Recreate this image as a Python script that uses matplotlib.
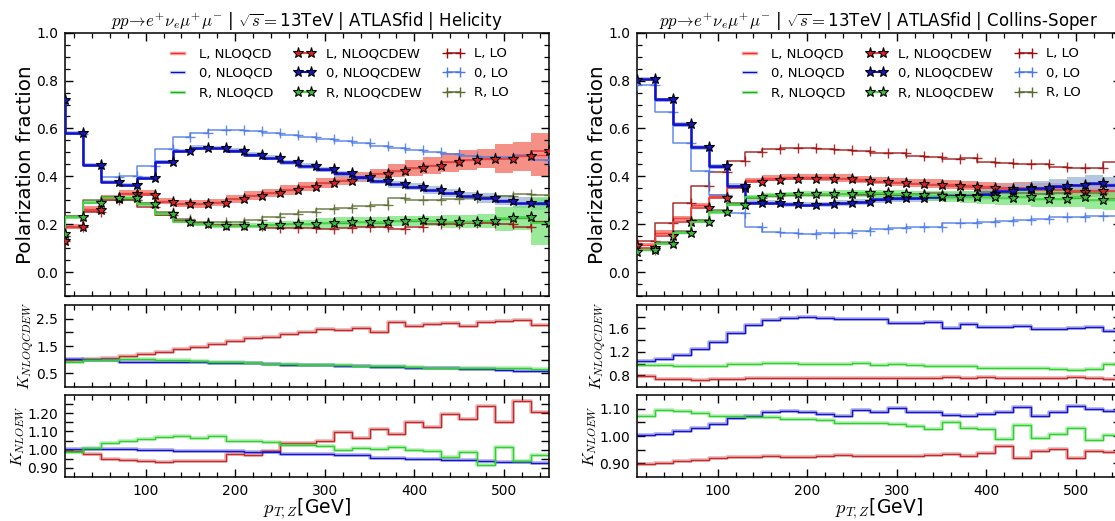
import numpy as np
import matplotlib
matplotlib.use("Agg")
import matplotlib.pyplot as plt
from matplotlib.lines import Line2D
from matplotlib.ticker import MultipleLocator, FixedLocator, FormatStrFormatter

plt.rcParams['mathtext.fontset'] = 'cm'
plt.rcParams['font.family'] = 'DejaVu Sans'

# transverse momentum of the Z boson, upper bin edges [GeV]
pt = [10, 30, 50, 70, 90, 110, 130, 150, 170, 190, 210, 230, 250, 270,
      290, 310, 330, 350, 370, 390, 410, 430, 450, 470, 490, 510, 530, 550]

# ---------------- Helicity frame ----------------
hel_L_qcd = [0.13, 0.19, 0.262, 0.31, 0.33, 0.33, 0.298, 0.285, 0.284, 0.291, 0.305, 0.32, 0.33, 0.342,
             0.358, 0.372, 0.384, 0.398, 0.412, 0.424, 0.435, 0.446, 0.459, 0.468, 0.473, 0.475, 0.484, 0.49]
hel_L_err = [0.01, 0.01, 0.012, 0.012, 0.012, 0.012, 0.012, 0.014, 0.015, 0.015, 0.016, 0.017, 0.018, 0.02,
             0.02, 0.02, 0.02, 0.02, 0.02, 0.028, 0.032, 0.035, 0.04, 0.04, 0.04, 0.06, 0.06, 0.09]
hel_0_qcd = [0.72, 0.583, 0.447, 0.378, 0.365, 0.393, 0.462, 0.507, 0.52, 0.518, 0.508, 0.492, 0.477, 0.458,
             0.443, 0.428, 0.41, 0.393, 0.38, 0.366, 0.357, 0.342, 0.33, 0.318, 0.309, 0.3, 0.29, 0.285]
hel_0_err = [0.008, 0.008, 0.008, 0.008, 0.008, 0.008, 0.008, 0.008, 0.009, 0.009, 0.01, 0.01, 0.01, 0.011,
             0.012, 0.012, 0.013, 0.013, 0.014, 0.015, 0.016, 0.017, 0.018, 0.018, 0.02, 0.02, 0.022, 0.025]
hel_R_qcd = [0.16, 0.23, 0.292, 0.31, 0.31, 0.283, 0.242, 0.212, 0.2, 0.195, 0.194, 0.194, 0.197, 0.199,
             0.2, 0.203, 0.207, 0.21, 0.207, 0.212, 0.215, 0.213, 0.211, 0.212, 0.213, 0.222, 0.225, 0.215]
hel_R_err = [0.006, 0.007, 0.008, 0.008, 0.008, 0.008, 0.008, 0.008, 0.009, 0.01, 0.011, 0.012, 0.014, 0.016,
             0.018, 0.022, 0.022, 0.022, 0.022, 0.021, 0.021, 0.021, 0.028, 0.028, 0.028, 0.05, 0.05, 0.1]

hel_L_ew = [0.13, 0.188, 0.26, 0.306, 0.326, 0.322, 0.294, 0.283, 0.283, 0.29, 0.304, 0.319, 0.329, 0.341,
            0.357, 0.371, 0.382, 0.396, 0.41, 0.422, 0.433, 0.444, 0.458, 0.468, 0.474, 0.474, 0.485, 0.507]
hel_0_ew = [0.72, 0.583, 0.447, 0.377, 0.364, 0.393, 0.461, 0.505, 0.519, 0.517, 0.507, 0.491, 0.477, 0.46,
            0.444, 0.429, 0.412, 0.396, 0.382, 0.367, 0.357, 0.343, 0.329, 0.318, 0.308, 0.297, 0.288, 0.288]
hel_R_ew = [0.16, 0.228, 0.29, 0.308, 0.308, 0.285, 0.243, 0.211, 0.2, 0.194, 0.193, 0.193, 0.198, 0.2,
            0.2, 0.204, 0.208, 0.211, 0.208, 0.214, 0.217, 0.214, 0.211, 0.211, 0.214, 0.225, 0.229, 0.207]

hel_L_lo = [0.13, 0.19, 0.25, 0.3, 0.3, 0.27, 0.238, 0.214, 0.206, 0.197, 0.197, 0.192, 0.186, 0.185,
            0.185, 0.18, 0.182, 0.189, 0.19, 0.178, 0.189, 0.199, 0.201, 0.207, 0.203, 0.2, 0.19, 0.21]
hel_0_lo = [0.72, 0.576, 0.447, 0.398, 0.4, 0.443, 0.513, 0.565, 0.583, 0.592, 0.592, 0.59, 0.582, 0.572,
            0.565, 0.556, 0.549, 0.5375, 0.528, 0.517, 0.51, 0.5, 0.493, 0.485, 0.482, 0.482, 0.489, 0.468]
hel_R_lo = [0.15, 0.236, 0.3, 0.315, 0.301, 0.29, 0.249, 0.221, 0.211, 0.211, 0.211, 0.218, 0.232, 0.243,
            0.25, 0.2625, 0.269, 0.274, 0.281, 0.308, 0.301, 0.301, 0.306, 0.308, 0.315, 0.318, 0.326, 0.322]

hel_kqcdew_L = [1.0, 1.0, 1.03, 1.06, 1.12, 1.2, 1.28, 1.38, 1.47, 1.56, 1.69, 1.8, 1.82, 1.94,
                2.03, 2.14, 2.08, 2.15, 2.03, 2.38, 2.23, 2.3, 2.33, 2.22, 2.38, 2.4, 2.45, 2.27]
hel_kqcdew_0 = [1.02, 1.02, 1.0, 0.98, 0.92, 0.9, 0.9, 0.9, 0.9, 0.88, 0.87, 0.86, 0.83, 0.82,
                0.81, 0.8, 0.78, 0.76, 0.75, 0.73, 0.71, 0.7, 0.68, 0.66, 0.65, 0.63, 0.6, 0.6]
hel_kqcdew_R = [0.93, 0.93, 0.97, 0.98, 1.02, 1.02, 1.0, 0.98, 0.95, 0.92, 0.9, 0.87, 0.84, 0.83,
                0.82, 0.8, 0.79, 0.77, 0.77, 0.76, 0.72, 0.71, 0.71, 0.7, 0.7, 0.7, 0.69, 0.66]

hel_knloew_L = [0.99, 0.99, 0.976, 0.95, 0.943, 0.936, 0.93, 0.939, 0.94, 0.936, 0.978, 0.972, 0.99, 1.037,
                1.037, 1.046, 1.095, 1.064, 1.114, 1.086, 1.15, 1.123, 1.196, 1.17, 1.242, 1.15, 1.266, 1.205]
hel_knloew_0 = [1.005, 1.005, 1.005, 1.003, 1.003, 1.0, 0.998, 0.995, 0.993, 0.99, 0.99, 0.988, 0.987, 0.978,
                0.976, 0.974, 0.97, 0.968, 0.955, 0.955, 0.95, 0.95, 0.944, 0.944, 0.94, 0.932, 0.932, 0.925]
hel_knloew_R = [0.985, 0.985, 1.01, 1.037, 1.05, 1.06, 1.07, 1.077, 1.064, 1.073, 1.046, 1.046, 1.04, 1.024,
                1.028, 1.022, 1.0, 1.01, 1.006, 1.013, 0.996, 0.995, 0.958, 0.987, 0.917, 1.013, 0.94, 0.969]

# ---------------- Collins-Soper frame ----------------
cs_L_qcd = [0.12, 0.115, 0.165, 0.225, 0.28, 0.318, 0.355, 0.385, 0.392, 0.396, 0.397, 0.396, 0.393, 0.388,
            0.382, 0.377, 0.372, 0.369, 0.366, 0.362, 0.358, 0.354, 0.353, 0.348, 0.346, 0.341, 0.342, 0.34]
cs_L_err = [0.008, 0.008, 0.01, 0.01, 0.01, 0.01, 0.01, 0.01, 0.012, 0.012, 0.013, 0.014, 0.015, 0.015,
            0.016, 0.017, 0.018, 0.018, 0.019, 0.02, 0.02, 0.02, 0.022, 0.024, 0.025, 0.026, 0.028, 0.03]
cs_0_qcd = [0.805, 0.805, 0.72, 0.615, 0.522, 0.44, 0.36, 0.292, 0.289, 0.283, 0.281, 0.283, 0.288, 0.294,
            0.303, 0.307, 0.31, 0.314, 0.317, 0.319, 0.324, 0.338, 0.345, 0.35, 0.356, 0.362, 0.368, 0.363]
cs_0_err = [0.008, 0.008, 0.008, 0.01, 0.01, 0.01, 0.01, 0.01, 0.01, 0.01, 0.01, 0.011, 0.012, 0.013,
            0.014, 0.015, 0.016, 0.017, 0.018, 0.02, 0.022, 0.024, 0.027, 0.03, 0.032, 0.034, 0.036, 0.036]
cs_R_qcd = [0.088, 0.093, 0.12, 0.165, 0.213, 0.252, 0.284, 0.312, 0.32, 0.324, 0.326, 0.327, 0.327, 0.327,
            0.327, 0.324, 0.321, 0.318, 0.315, 0.314, 0.312, 0.31, 0.312, 0.306, 0.305, 0.309, 0.3, 0.3]
cs_R_err = [0.006, 0.006, 0.007, 0.008, 0.008, 0.009, 0.01, 0.01, 0.01, 0.011, 0.012, 0.013, 0.014, 0.015,
            0.016, 0.017, 0.019, 0.02, 0.022, 0.024, 0.026, 0.028, 0.03, 0.033, 0.035, 0.036, 0.038, 0.04]

cs_L_ew = [0.11, 0.1, 0.151, 0.211, 0.267, 0.308, 0.35, 0.378, 0.384, 0.39, 0.39, 0.39, 0.387, 0.382,
           0.375, 0.371, 0.367, 0.364, 0.361, 0.357, 0.353, 0.347, 0.35, 0.343, 0.343, 0.336, 0.34, 0.34]
cs_0_ew = [0.804, 0.808, 0.721, 0.617, 0.524, 0.443, 0.361, 0.29, 0.29, 0.283, 0.281, 0.283, 0.2875, 0.294,
           0.304, 0.308, 0.311, 0.315, 0.318, 0.319, 0.325, 0.34, 0.345, 0.35, 0.358, 0.364, 0.371, 0.365]
cs_R_ew = [0.085, 0.092, 0.118, 0.163, 0.211, 0.25, 0.282, 0.312, 0.32, 0.325, 0.327, 0.327, 0.328, 0.329,
           0.329, 0.326, 0.322, 0.319, 0.315, 0.315, 0.3125, 0.311, 0.315, 0.306, 0.306, 0.3125, 0.301, 0.3]

cs_L_lo = [0.12, 0.128, 0.205, 0.29, 0.36, 0.42, 0.465, 0.5, 0.513, 0.517, 0.517, 0.515, 0.508, 0.506,
           0.496, 0.496, 0.485, 0.479, 0.472, 0.475, 0.458, 0.454, 0.451, 0.451, 0.44, 0.436, 0.436, 0.46]
cs_0_lo = [0.78, 0.78, 0.67, 0.5375, 0.422, 0.322, 0.246, 0.19, 0.168, 0.162, 0.16, 0.163, 0.165, 0.172,
           0.179, 0.183, 0.1875, 0.19, 0.207, 0.204, 0.208, 0.214, 0.218, 0.222, 0.228, 0.228, 0.235, 0.235]
cs_R_lo = [0.1, 0.092, 0.125, 0.172, 0.218, 0.258, 0.289, 0.31, 0.319, 0.321, 0.323, 0.322, 0.327, 0.322,
           0.325, 0.321, 0.327, 0.331, 0.321, 0.321, 0.334, 0.332, 0.331, 0.327, 0.332, 0.336, 0.329, 0.305]

cs_kqcdew_L = [0.783, 0.783, 0.743, 0.731, 0.726, 0.743, 0.745, 0.754, 0.754, 0.756, 0.76, 0.754, 0.754, 0.754,
               0.76, 0.748, 0.754, 0.76, 0.777, 0.754, 0.766, 0.76, 0.754, 0.76, 0.757, 0.766, 0.757, 0.731]
cs_kqcdew_0 = [1.04, 1.04, 1.086, 1.14, 1.257, 1.36, 1.514, 1.657, 1.743, 1.77, 1.8, 1.783, 1.754, 1.754,
               1.754, 1.697, 1.697, 1.714, 1.611, 1.669, 1.617, 1.617, 1.64, 1.589, 1.589, 1.6, 1.617, 1.554]
cs_kqcdew_R = [0.971, 0.971, 0.983, 0.96, 0.96, 0.954, 0.989, 1.0, 1.017, 1.014, 1.0, 1.0, 1.0, 1.011,
               0.971, 1.0, 0.971, 0.954, 0.954, 0.96, 0.931, 0.931, 0.931, 0.92, 0.914, 0.897, 0.9, 1.0]

cs_knloew_L = [0.899, 0.899, 0.901, 0.907, 0.914, 0.92, 0.922, 0.923, 0.926, 0.923, 0.923, 0.926, 0.932, 0.926,
               0.928, 0.928, 0.926, 0.932, 0.935, 0.926, 0.938, 0.963, 0.92, 0.944, 0.951, 0.92, 0.944, 0.941]
cs_knloew_0 = [1.004, 1.004, 1.009, 1.019, 1.028, 1.043, 1.065, 1.074, 1.086, 1.09, 1.086, 1.08, 1.074, 1.095,
               1.086, 1.102, 1.086, 1.086, 1.077, 1.074, 1.08, 1.086, 1.105, 1.074, 1.089, 1.111, 1.099, 1.093]
cs_knloew_R = [1.072, 1.072, 1.095, 1.093, 1.084, 1.074, 1.074, 1.07, 1.068, 1.064, 1.062, 1.059, 1.049, 1.049,
               1.049, 1.043, 1.037, 1.025, 1.052, 1.028, 1.025, 0.988, 1.04, 0.994, 1.006, 1.031, 0.985, 1.002]

# ---------------- styling ----------------
qcd_line = {'L': '#ff2a2a', '0': '#0a0acc', 'R': '#2ca02c'}
qcd_band = {'L': '#f26b5e', '0': '#9db4d8', 'R': '#77e477'}
ew_line = {'L': '#e04545', '0': '#1010d0', 'R': '#48d848'}
ew_face = {'L': '#e02020', '0': '#1515c8', 'R': '#30c030'}
lo_line = {'L': '#9b0d0d', '0': '#4a78e8', 'R': '#5a6b30'}
k_line = {'L': '#c42a2a', '0': '#1414c8', 'R': '#2ed12e'}

W = 1115.0
H = 521.0


def frac_rect(x0, x1, ytop, ybot):
    return [x0 / W, 1 - ybot / H, (x1 - x0) / W, (ybot - ytop) / H]


def style_axis(ax):
    ax.tick_params(which='both', direction='in', top=True, right=True,
                   labelsize=10, pad=5)
    ax.tick_params(which='major', length=6, width=1.0)
    ax.tick_params(which='minor', length=3.5, width=0.9)
    ax.xaxis.set_major_locator(MultipleLocator(100))
    ax.xaxis.set_minor_locator(MultipleLocator(20))
    ax.set_xlim(10, 550)
    for s in ax.spines.values():
        s.set_linewidth(1.1)


def draw_main(ax, data, title):
    x = np.array(pt)
    for pol in ['L', '0', 'R']:
        qcd = np.array(data[pol]['qcd'])
        err = np.array(data[pol]['err'])
        ax.fill_between(x, qcd - err, qcd + err, step='pre',
                        color=qcd_band[pol], alpha=0.75, lw=0, zorder=1)
        ax.plot(x, qcd, drawstyle='steps-pre', color=qcd_line[pol], lw=1.0,
                alpha=0.8, zorder=2)
    for pol in ['L', '0', 'R']:
        ax.plot(x, data[pol]['lo'], drawstyle='steps-pre', color=lo_line[pol],
                lw=1.1, alpha=0.85, marker='+', ms=6.5, mew=1.0, zorder=3)
    for pol in ['L', '0', 'R']:
        ax.plot(x, data[pol]['ew'], drawstyle='steps-pre', color=ew_line[pol],
                lw=1.8 if pol == '0' else 1.3, marker='*', ms=8,
                mfc=ew_face[pol], mec='black', mew=0.8, zorder=4)

    handles = []
    for pol in ['L', '0', 'R']:
        handles.append((Line2D([], [], color=qcd_band[pol], lw=2.5, alpha=0.6),
                        Line2D([], [], color=qcd_line[pol], lw=0.9)))
    for pol in ['L', '0', 'R']:
        handles.append(Line2D([], [], color=ew_line[pol], lw=1.5, marker='*', ms=8,
                              mfc=ew_face[pol], mec='black', mew=0.8))
    for pol in ['L', '0', 'R']:
        handles.append(Line2D([], [], color=lo_line[pol], lw=1.1, marker='+',
                              ms=6.5, mew=1.0))
    labels = ['L, NLOQCD', '0, NLOQCD', 'R, NLOQCD',
              'L, NLOQCDEW', '0, NLOQCDEW', 'R, NLOQCDEW',
              'L, LO', '0, LO', 'R, LO']
    ax.legend(handles, labels, ncol=3, frameon=False, numpoints=2,
              loc='upper left', bbox_to_anchor=(0.2, 0.965), borderaxespad=0,
              fontsize=9.5, handlelength=1.6, handletextpad=0.8,
              columnspacing=1.6, labelspacing=0.5)

    style_axis(ax)
    ax.set_ylim(-0.1, 1.0)
    ax.yaxis.set_major_locator(MultipleLocator(0.2))
    ax.yaxis.set_minor_locator(MultipleLocator(0.05))
    ax.yaxis.set_major_formatter(FormatStrFormatter('%.1f'))
    ax.tick_params(labelbottom=False)
    ax.set_ylabel('Polarization fraction', fontsize=14.3, labelpad=1)
    ax.set_title(r'$pp\!\to\! e^{+}\nu_{e}\mu^{+}\mu^{-}$ | $\sqrt{s}=$13TeV | ATLASfid | ' + title,
                 fontsize=12, pad=4)


def draw_ratio(ax, series, ylim, ticks, labelled, fmt, ylabel, bottom):
    x = np.array(pt)
    for pol in ['L', '0', 'R']:
        ax.plot(x, series[pol], drawstyle='steps-pre', color=k_line[pol],
                lw=2.6, alpha=0.35)
        ax.plot(x, series[pol], drawstyle='steps-pre', color=k_line[pol], lw=1.0)
    style_axis(ax)
    ax.set_ylim(*ylim)
    ax.yaxis.set_major_locator(FixedLocator(ticks))
    ax.yaxis.set_minor_locator(FixedLocator([]))
    ax.set_yticklabels([fmt % t if t in labelled else '' for t in ticks])
    ax.set_ylabel(ylabel, fontsize=11.7, labelpad=0)
    if bottom:
        ax.set_xlabel(r'$p_{T,Z}$[GeV]', fontsize=13.5, labelpad=-1)
    else:
        ax.tick_params(labelbottom=False)


fig = plt.figure(figsize=(W / 100, H / 100), dpi=100)

panels = [
    (65.0, 548.8, 'Helicity',
     {'L': dict(qcd=hel_L_qcd, err=hel_L_err, ew=hel_L_ew, lo=hel_L_lo),
      '0': dict(qcd=hel_0_qcd, err=hel_0_err, ew=hel_0_ew, lo=hel_0_lo),
      'R': dict(qcd=hel_R_qcd, err=hel_R_err, ew=hel_R_ew, lo=hel_R_lo)},
     {'L': hel_kqcdew_L, '0': hel_kqcdew_0, 'R': hel_kqcdew_R},
     {'L': hel_knloew_L, '0': hel_knloew_0, 'R': hel_knloew_R},
     ((0.0, 3.0), [0.5, 1.0, 1.5, 2.0, 2.5], [0.5, 1.5, 2.5], '%.1f'),
     ((0.85, 1.3), [0.9, 0.95, 1.0, 1.05, 1.1, 1.15, 1.2, 1.25], [0.9, 1.0, 1.1, 1.2], '%.2f')),
    (637.0, 1120.8, 'Collins-Soper',
     {'L': dict(qcd=cs_L_qcd, err=cs_L_err, ew=cs_L_ew, lo=cs_L_lo),
      '0': dict(qcd=cs_0_qcd, err=cs_0_err, ew=cs_0_ew, lo=cs_0_lo),
      'R': dict(qcd=cs_R_qcd, err=cs_R_err, ew=cs_R_ew, lo=cs_R_lo)},
     {'L': cs_kqcdew_L, '0': cs_kqcdew_0, 'R': cs_kqcdew_R},
     {'L': cs_knloew_L, '0': cs_knloew_0, 'R': cs_knloew_R},
     ((0.6, 2.0), [0.8, 1.0, 1.2, 1.4, 1.6, 1.8], [0.8, 1.2, 1.6], '%.1f'),
     ((0.85, 1.15), [0.9, 0.95, 1.0, 1.05, 1.1], [0.9, 1.0, 1.1], '%.2f')),
]

for x0, x1, frame, main_data, kq, ke, r1, r2 in panels:
    ax_main = fig.add_axes(frac_rect(x0, x1, 32.7, 296.0))
    ax_k1 = fig.add_axes(frac_rect(x0, x1, 305.0, 387.0))
    ax_k2 = fig.add_axes(frac_rect(x0, x1, 395.0, 477.0))
    draw_main(ax_main, main_data, frame)
    draw_ratio(ax_k1, kq, r1[0], r1[1], r1[2], r1[3], r'$K_{NLOQCDEW}$', False)
    draw_ratio(ax_k2, ke, r2[0], r2[1], r2[2], r2[3], r'$K_{NLOEW}$', True)

fig.savefig('out.png', dpi=100)
